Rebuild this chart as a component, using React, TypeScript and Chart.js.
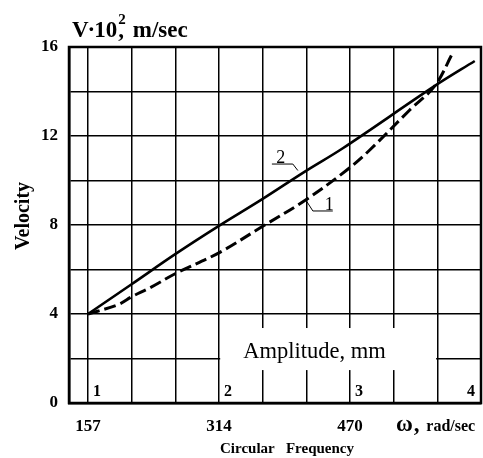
import React, { useEffect, useRef } from 'react';
import { Chart, registerables } from 'chart.js';

Chart.register(...registerables);

// ---- data ----
const xTickValues = [157, 209.33, 261.67, 314, 366.33, 418.67, 471, 523.33, 575.67, 628];
const xTickLabels = ['157', '', '', '314', '', '', '470', '', '', ''];
const yTickLabels = ['0', '', '4', '', '8', '', '12', '', '16'];

// curve 2 (solid)
const curve2Freq = [157, 209.7, 262, 313.9, 365.4, 416.9, 462.4, 572.6, 620.5];
const curve2Vel = [4.0, 5.35, 6.7, 7.96, 9.15, 10.4, 11.45, 14.25, 15.37];

// curve 1 (dashed)
const curve1Freq = [157, 193, 209.7, 231.3, 263.6, 313.9, 365.4, 416.9, 467.2, 494.7, 542.6, 572.6, 594.1];
const curve1Vel = [4.0, 4.42, 4.78, 5.18, 5.85, 6.75, 7.92, 9.1, 10.47, 11.37, 13.17, 14.25, 15.73];

const amplitudeLabels = ['1', '2', '3', '4'];
const amplitudeFreq = [157, 314, 471, 628];

const SERIF = '"Liberation Serif", "Times New Roman", serif';

const annotationPlugin = {
  id: 'annot',
  beforeDatasetsDraw(chart: any) {
    const { ctx, scales } = chart;
    const x = scales.x, y = scales.y;
    // white box behind "Amplitude, mm"
    const x0 = x.getPixelForValue(314) + 1.2;
    const x1 = x.getPixelForValue(575.67) - 1.2;
    const y0 = y.getPixelForValue(3.37);
    const y1 = y.getPixelForValue(1.48);
    ctx.save();
    ctx.fillStyle = '#fff';
    ctx.fillRect(x0, y0, x1 - x0, y1 - y0);
    ctx.restore();
  },
  afterDraw(chart: any) {
    const { ctx, scales, chartArea } = chart;
    const x = scales.x, y = scales.y;
    ctx.save();
    // frame
    ctx.strokeStyle = '#000';
    ctx.lineWidth = 2.5;
    ctx.strokeRect(chartArea.left, chartArea.top, chartArea.right - chartArea.left, chartArea.bottom - chartArea.top);

    ctx.fillStyle = '#000';
    // Amplitude text
    ctx.font = `22.5px ${SERIF}`;
    ctx.textBaseline = 'middle';
    ctx.textAlign = 'left';
    ctx.fillText('Amplitude, mm', x.getPixelForValue(343), y.getPixelForValue(2.3));

    // amplitude numbers
    ctx.font = `bold 16px ${SERIF}`;
    ctx.textBaseline = 'alphabetic';
    amplitudeLabels.forEach((lab, i) => {
      const px = x.getPixelForValue(amplitudeFreq[i]);
      if (i === amplitudeLabels.length - 1) {
        ctx.textAlign = 'right';
        ctx.fillText(lab, px - 6, chartArea.bottom - 7);
      } else {
        ctx.textAlign = 'left';
        ctx.fillText(lab, px + 5, chartArea.bottom - 7);
      }
    });

    // curve labels with leaders
    ctx.lineWidth = 1;
    ctx.font = `18px ${SERIF}`;
    ctx.textAlign = 'center';
    ctx.textBaseline = 'alphabetic';
    // label 2
    ctx.fillText('2', x.getPixelForValue(388), y.getPixelForValue(10.8));
    ctx.beginPath();
    ctx.moveTo(x.getPixelForValue(377.4), y.getPixelForValue(10.74));
    ctx.lineTo(x.getPixelForValue(402.5), y.getPixelForValue(10.74));
    ctx.lineTo(x.getPixelForValue(408.5), y.getPixelForValue(10.45));
    ctx.stroke();
    // label 1
    ctx.fillText('1', x.getPixelForValue(446), y.getPixelForValue(8.68));
    ctx.beginPath();
    ctx.moveTo(x.getPixelForValue(450.4), y.getPixelForValue(8.63));
    ctx.lineTo(x.getPixelForValue(426.5), y.getPixelForValue(8.63));
    ctx.lineTo(x.getPixelForValue(419.3), y.getPixelForValue(9.05));
    ctx.stroke();

    // top title  V·10², m/sec
    ctx.textAlign = 'left';
    ctx.textBaseline = 'alphabetic';
    ctx.font = `bold 23px ${SERIF}`;
    const tx = 72, ty = 37;
    ctx.fillText('V', tx, ty);
    const wv = ctx.measureText('V').width;
    ctx.fillText('\u00B7', tx + wv - 1, ty);
    const wd = ctx.measureText('\u00B7').width;
    const x10 = tx + wv - 1 + wd - 1;
    ctx.fillText('10', x10, ty);
    const w10 = ctx.measureText('10').width;
    ctx.font = `bold 15px ${SERIF}`;
    ctx.fillText('2', x10 + w10 + 1, ty - 13);
    ctx.font = `bold 23px ${SERIF}`;
    ctx.fillText(',', x10 + w10 + 1, ty);
    const wc = ctx.measureText(', ').width;
    ctx.fillText('m/sec', x10 + w10 + 1 + wc + 3, ty);

    // y axis title
    ctx.save();
    ctx.translate(24, 216);
    ctx.rotate(-Math.PI / 2);
    ctx.textAlign = 'center';
    ctx.textBaseline = 'middle';
    ctx.font = `bold 20px ${SERIF}`;
    ctx.fillText('Velocity', 0, 0);
    ctx.restore();

    // x axis title
    ctx.textAlign = 'center';
    ctx.textBaseline = 'middle';
    ctx.font = `bold 15px ${SERIF}`;
    ctx.fillText('Circular   Frequency', 287, 449);

    // omega unit
    ctx.textAlign = 'left';
    ctx.textBaseline = 'alphabetic';
    ctx.font = `bold 23px ${SERIF}`;
    const ox = 396, oy = 431;
    ctx.fillText('\u03C9', ox, oy);
    const wo = ctx.measureText('\u03C9').width;
    ctx.fillText(',', ox + wo + 1, oy);
    const wcomma = ctx.measureText(', ').width;
    ctx.font = `bold 16px ${SERIF}`;
    ctx.fillText('rad/sec', ox + wo + wcomma + 2, oy);

    ctx.restore();
  },
};

export default function App() {
  const ref = useRef<HTMLCanvasElement | null>(null);
  useEffect(() => {
    if (!ref.current) return;
    const chart = new Chart(ref.current, {
      type: 'line',
      data: {
        datasets: [
          {
            label: '2',
            data: curve2Freq.map((f, i) => ({ x: f, y: curve2Vel[i] })),
            borderColor: '#000',
            borderWidth: 2.6,
            pointRadius: 0,
            tension: 0.35,
            fill: false,
          },
          {
            label: '1',
            data: curve1Freq.map((f, i) => ({ x: f, y: curve1Vel[i] })),
            borderColor: '#000',
            borderWidth: 3,
            borderDash: [12, 5],
            pointRadius: 0,
            tension: 0.35,
            fill: false,
          },
        ],
      },
      options: {
        responsive: false,
        animation: false,
        events: [],
        layout: { padding: { left: 0, right: 2, top: 47, bottom: 0 } },
        plugins: { legend: { display: false }, tooltip: { enabled: false }, title: { display: false } },
        scales: {
          x: {
            type: 'linear',
            min: 134.25,
            max: 628,
            afterBuildTicks: (scale: any) => {
              scale.ticks = xTickValues.map((v) => ({ value: v }));
            },
            afterFit: (scale: any) => {
              scale.height = 55;
              scale.paddingLeft = 0;
              scale.paddingRight = 0;
            },
            ticks: {
              autoSkip: false,
              maxRotation: 0,
              padding: 13,
              color: '#000',
              font: { family: SERIF, size: 17, weight: 'bold' },
              callback: (value: any, index: number) => xTickLabels[index] ?? '',
            },
            grid: { color: '#000', lineWidth: 1.5, drawTicks: false },
            border: { display: true, color: '#000', width: 2.5 },
          },
          y: {
            type: 'linear',
            min: 0,
            max: 16,
            afterFit: (scale: any) => {
              scale.width = 69;
            },
            ticks: {
              stepSize: 2,
              padding: 11,
              color: '#000',
              font: { family: SERIF, size: 17, weight: 'bold' },
              callback: (value: any, index: number) => yTickLabels[index] ?? '',
            },
            grid: { color: '#000', lineWidth: 1.5, drawTicks: false },
            border: { display: true, color: '#000', width: 2.5 },
          },
        },
      },
      plugins: [annotationPlugin],
    } as any);
    return () => chart.destroy();
  }, []);
  return (
    <div style={{ position: 'absolute', left: 0, top: 0, width: 483, height: 458, background: '#fff' }}>
      <canvas ref={ref} width={483} height={458} style={{ width: 483, height: 458, display: 'block' }} />
    </div>
  );
}
